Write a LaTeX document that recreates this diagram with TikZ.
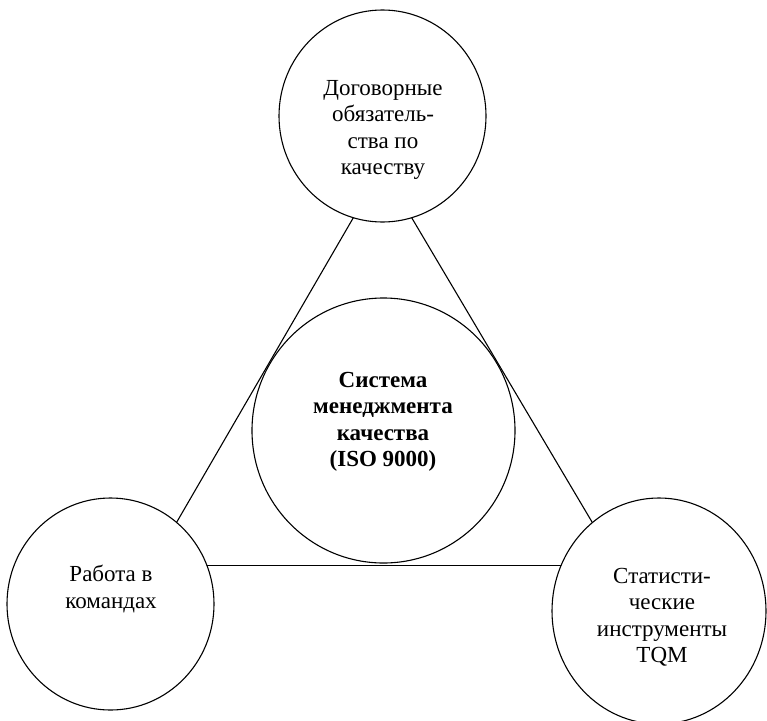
\documentclass[tikz,border=0pt]{standalone}
\usepackage{fontspec}
\setmainfont{Liberation Serif}
\usetikzlibrary{shapes.geometric}
\begin{document}
\begin{tikzpicture}[x=1pt,y=-1pt,
  ring/.style={draw,ellipse,line width=1.1pt,inner sep=0pt,outer sep=0pt},
  caption/.style={align=center,inner sep=0pt,font=\fontsize{23}{26.5}\selectfont},
  link/.style={line width=1.1pt}]
  \useasboundingbox (0,0) rectangle (767,720);
  % the four fields
  \node[ring,minimum width=207pt,minimum height=212pt] (contract) at (382.5,116) {};
  \node[ring,minimum width=263pt,minimum height=265pt] (qms) at (383.5,430.5) {};
  \node[ring,minimum width=207pt,minimum height=212pt] (teams) at (110.5,604) {};
  \node[ring,minimum width=214pt,minimum height=226pt] (stats) at (659,611) {};
  % their texts
  \node[caption] (contracttext) at (383,130) {Договорные\\обязатель-\\ства по\\качеству};
  \node[caption,font=\fontsize{23}{26.5}\selectfont\bfseries] (qmstext) at (383,422) {Система\\менеджмента\\качества\\(ISO 9000)};
  \node[caption] (teamstext) at (111,589) {Работа в\\командах};
  \node[caption] (statstext) at (662,617) {Статисти-\\ческие\\инструменты\\TQM};
  % triangle of connections
  \draw[link] (contract.254.4) -- (teams.51.5);
  \draw[link] (contract.286.1) -- (stats.127.3);
  \draw[link] (teams.22) -- (stats.155 |- teams.22);
\end{tikzpicture}
\end{document}
